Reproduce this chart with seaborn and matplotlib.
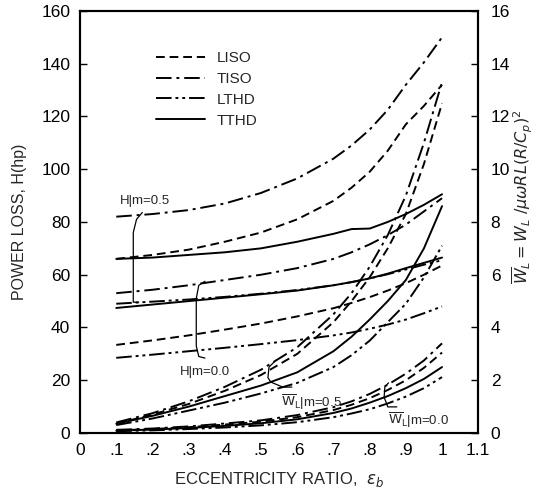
import numpy as np
import pandas as pd
import seaborn as sns
import matplotlib.pyplot as plt
from matplotlib.lines import Line2D

########################################################################
# Data

# eccentricity ratio grid (x axis)
eps = [0.1, 0.2, 0.3, 0.4, 0.5, 0.6, 0.7, 0.75, 0.8, 0.85, 0.9, 0.95, 1.0]

# power loss H (hp), left axis, m = 0.5
H_liso_m05 = [66, 67.5, 69.5, 72.5, 76, 81, 88, 93, 99, 107, 117, 124, 132]
H_tiso_m05 = [82, 83, 84.5, 87, 91, 96.5, 104, 109, 115, 122.5, 132, 140.5, 150]
H_lthd_m05 = [49, 49.8, 50.6, 51.6, 52.8, 54.2, 56, 57.2, 58.6, 60.2, 62, 63.8, 65.5]
H_tthd_m05 = [66, 66.5, 67.5, 68.5, 70, 72.5, 75.5, 77.3, 77.5, 80, 83, 86.5, 90.5]

# power loss H (hp), left axis, m = 0.0
H_liso_m00 = [33.4, 35.1, 37, 39.2, 41.5, 44.2, 47.3, 49.3, 51.5, 54, 56.8, 60, 63.5]
H_tiso_m00 = [53, 54.3, 56, 58, 60, 62.5, 66, 68.5, 71.5, 75, 79, 84, 89]
H_lthd_m00 = [28.5, 29.7, 31, 32.3, 33.7, 35.2, 37, 38.1, 39.5, 41.1, 43, 45.4, 48]
H_tthd_m00 = [47.4, 48.7, 50, 51.3, 52.6, 54, 56, 57.2, 58.6, 60.4, 62.5, 64.5, 66.5]

# dimensionless load W, right axis, m = 0.5
W_liso_m05 = [0.35, 0.7, 1.1, 1.6, 2.2, 3.0, 4.2, 5.0, 5.9, 7.0, 8.3, 10.2, 12.5]
W_tiso_m05 = [0.4, 0.75, 1.2, 1.75, 2.4, 3.25, 4.5, 5.3, 6.3, 7.5, 9.0, 11.0, 13.3]
W_lthd_m05 = [0.3, 0.55, 0.85, 1.15, 1.5, 1.9, 2.5, 2.95, 3.5, 4.2, 4.9, 5.9, 7.1]
W_tthd_m05 = [0.35, 0.65, 1.0, 1.4, 1.8, 2.3, 3.1, 3.65, 4.3, 5.0, 5.8, 7.0, 8.6]

# dimensionless load W, right axis, m = 0.0
W_liso_m00 = [0.10, 0.15, 0.22, 0.32, 0.43, 0.6, 0.87, 1.07, 1.32, 1.63, 2.0, 2.47, 3.05]
W_tiso_m00 = [0.12, 0.17, 0.25, 0.36, 0.48, 0.68, 0.98, 1.2, 1.48, 1.83, 2.25, 2.75, 3.4]
W_lthd_m00 = [0.07, 0.10, 0.15, 0.21, 0.29, 0.41, 0.6, 0.74, 0.9, 1.12, 1.38, 1.7, 2.12]
W_tthd_m00 = [0.09, 0.13, 0.19, 0.27, 0.37, 0.52, 0.76, 0.93, 1.15, 1.4, 1.7, 2.05, 2.5]

models = ['LISO', 'TISO', 'LTHD', 'TTHD']
x_ticks = [0, 0.1, 0.2, 0.3, 0.4, 0.5, 0.6, 0.7, 0.8, 0.9, 1.0, 1.1]
x_ticklabels = ['0', '.1', '.2', '.3', '.4', '.5', '.6', '.7', '.8', '.9', '1', '1.1']

########################################################################
# Build long-form tables for seaborn

def long_table(series, group):
    frames = []
    for model, values in zip(models, series):
        frames.append(pd.DataFrame({'eps': eps, 'value': values, 'model': model, 'group': group}))
    return pd.concat(frames, ignore_index=True)

df_H = pd.concat([
    long_table([H_liso_m05, H_tiso_m05, H_lthd_m05, H_tthd_m05], 'm05'),
    long_table([H_liso_m00, H_tiso_m00, H_lthd_m00, H_tthd_m00], 'm00')], ignore_index=True)
df_W = pd.concat([
    long_table([W_liso_m05, W_tiso_m05, W_lthd_m05, W_tthd_m05], 'm05'),
    long_table([W_liso_m00, W_tiso_m00, W_lthd_m00, W_tthd_m00], 'm00')], ignore_index=True)

# dash patterns (segment, gap, ...), "" is solid
dash_styles = {'LISO': (4.5, 2.5), 'TISO': (8, 2.5, 1.5, 2.5),
               'LTHD': (8, 2, 1.5, 2, 1.5, 2), 'TTHD': ''}

########################################################################
# Plotting

sns.set_style('white')
plt.rcParams['font.family'] = ['Liberation Sans', 'DejaVu Sans']
plt.rcParams['mathtext.fontset'] = 'dejavusans'

fig = plt.figure(figsize=(5.41, 4.96), dpi=100)
ax = fig.add_axes([0.148, 0.127, 0.736, 0.851])
ax2 = ax.twinx()

lw = 1.4
sns.lineplot(data=df_H, x='eps', y='value', style='model', units='group', estimator=None,
             dashes=dash_styles, color='black', linewidth=lw, ax=ax, legend=False, sort=False)
sns.lineplot(data=df_W, x='eps', y='value', style='model', units='group', estimator=None,
             dashes=dash_styles, color='black', linewidth=lw, ax=ax2, legend=False, sort=False)

ax.set_xlim(0, 1.1)
ax.set_ylim(0, 160)
ax2.set_ylim(0, 16)
ax.set_xticks(x_ticks)
ax.set_xticklabels(x_ticklabels)
ax.set_yticks(np.arange(0, 161, 20))
ax2.set_yticks(np.arange(0, 17, 2))
ax2.set_ylabel('')

for a in (ax, ax2):
    for side in a.spines:
        a.spines[side].set_linewidth(1.5)
        a.spines[side].set_color('black')
ax.tick_params(axis='both', direction='in', length=5, width=1, labelsize=12.5, pad=7, colors='black')
ax2.tick_params(axis='y', direction='in', length=5, width=1, labelsize=12.5, pad=9, colors='black')

ax.set_xlabel(r'ECCENTRICITY RATIO,  $\varepsilon_b$', fontsize=12, labelpad=9)
ax.set_ylabel('POWER LOSS, H(hp)', fontsize=11.5, labelpad=10)
ax.text(1.112, 0.56, r'$\overline{W}_L=W_L\ /\mu\omega RL(R/C_p)^2$', transform=ax.transAxes,
        rotation=90, ha='center', va='center', fontsize=11.5)

# legend
handles = []
for model in models:
    dashes = dash_styles[model]
    if dashes == '':
        handles.append(Line2D([], [], color='black', linewidth=lw, linestyle='-'))
    else:
        handles.append(Line2D([], [], color='black', linewidth=lw, linestyle=(0, dashes)))
ax.legend(handles, models, loc='upper left', bbox_to_anchor=(0.19, 0.905), frameon=False,
          fontsize=11, handlelength=3.2, handletextpad=0.8, labelspacing=0.45,
          borderpad=0, borderaxespad=0)

# group labels and brackets
ax.text(0.11, 88, 'H|m=0.5', fontsize=9.5, va='center')
ax.plot([0.172, 0.156, 0.147, 0.147, 0.162], [83.6, 81, 76, 49.6, 49.6], color='black', lw=0.9)

ax.text(0.276, 23, 'H|m=0.0', fontsize=9.5, va='center')
ax.plot([0.345, 0.328, 0.321, 0.321, 0.328, 0.345], [57.5, 56, 51, 33, 29, 28.4], color='black', lw=0.9)

ax.text(0.555, 11.8, r'$\overline{\mathrm{W}}_\mathrm{L}$|m=0.5', fontsize=9.5, va='center')
ax.plot([0.536, 0.522, 0.519, 0.527, 0.56, 0.585], [26.9, 25, 21, 19.3, 17.4, 17.4], color='black', lw=0.9)

ax.text(0.85, 4.9, r'$\overline{\mathrm{W}}_\mathrm{L}$|m=0.0', fontsize=9.5, va='center')
ax.plot([0.852, 0.842, 0.84, 0.845, 0.85, 0.875], [19, 17.5, 13.5, 11.8, 9.9, 9.9], color='black', lw=0.9)

plt.savefig('out.png', dpi=100)
plt.close(fig)
